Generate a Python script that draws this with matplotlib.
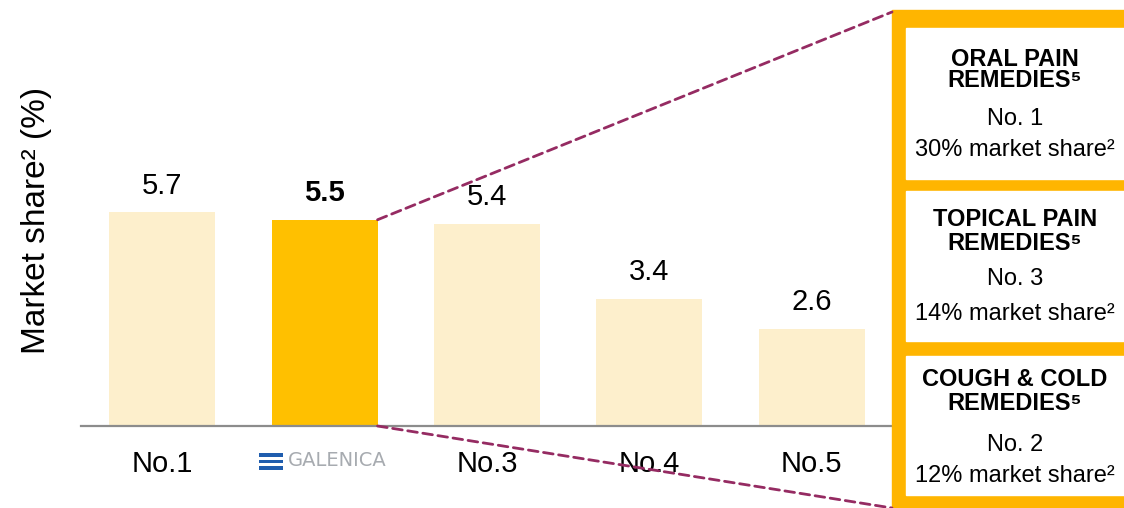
import matplotlib
matplotlib.use("Agg")
import matplotlib.pyplot as plt
from matplotlib.patches import Rectangle, ConnectionPatch
import matplotlib.transforms as mtransforms

plt.rcParams['font.family'] = ['Liberation Sans', 'DejaVu Sans']

# ---- data ----
categories = ["No.1", "GALENICA", "No.3", "No.4", "No.5"]
values = [5.7, 5.5, 5.4, 3.4, 2.6]
highlight = "GALENICA"
ylabel = "Market share\u00b2 (%)"
panel_titles = ["ORAL PAIN\nREMEDIES\u2075", "TOPICAL PAIN\nREMEDIES\u2075", "COUGH & COLD\nREMEDIES\u2075"]
panel_ranks = ["No. 1", "No. 3", "No. 2"]
panel_shares = ["30% market share\u00b2", "14% market share\u00b2", "12% market share\u00b2"]

# ---- style ----
C_LIGHT = "#FDEFCC"
C_HL = "#FFC000"
C_FRAME = "#FFB500"
C_DASH = "#952B62"
W, H = 1124, 508

fig = plt.figure(figsize=(W / 100, H / 100), dpi=100)
ax = fig.add_axes([81 / W, 82 / H, (893 - 81) / W, 416 / H])

bw = 0.652
x = list(range(len(categories)))
colors = [C_HL if c == highlight else C_LIGHT for c in categories]
ax.bar(x, values, width=bw, color=colors, zorder=2)
ax.set_xlim(-0.5, len(categories) - 0.5)
ax.set_ylim(0, 416 / 37.5)

for xi, v, c in zip(x, values, categories):
    ax.annotate(f"{v:.1f}", (xi, v), xytext=(0, 9), textcoords="offset points",
                ha="center", va="bottom", fontsize=21,
                fontweight="bold" if c == highlight else "normal")

for s in ["top", "right", "left"]:
    ax.spines[s].set_visible(False)
ax.spines["bottom"].set_color("#8C8C8C")
ax.spines["bottom"].set_linewidth(1.6)
ax.set_yticks([])
ax.set_xticks(x)
ax.set_xticklabels(["" if c == highlight else c for c in categories], fontsize=21)
ax.tick_params(axis="x", length=0, pad=17)

# GALENICA logo (stripes + wordmark) under highlighted bar
hi = categories.index(highlight)
trans = mtransforms.blended_transform_factory(ax.transData, ax.transAxes)
px = 1 / 162.5  # data units per pixel horizontally
py = 1 / 416    # axes units per pixel vertically
for k in range(3):
    y_pix = 453 + k * 6.5
    y_ax = (426 - y_pix) / 416.0
    ax.add_patch(Rectangle((hi - (325 - 259) * px, y_ax - 3.5 * py), 24 * px, 3.5 * py,
                           transform=trans, facecolor="#1F5DAE", edgecolor="none",
                           lw=0, clip_on=False))
ax.text(hi - (325 - 288) * px, (426 - 461) / 416.0, "GALENICA", transform=trans,
        ha="left", va="center", fontsize=14, color="#A7ABB0", family="DejaVu Sans")

fig.text(37 / W, 1 - 220 / H, ylabel, rotation=90, ha="center", va="center", fontsize=24)

# ---- right panel ----
fx0 = 892 / W
fig.patches.append(Rectangle((fx0, 0), 1 - fx0, 1 - 10 / H, transform=fig.transFigure,
                             color=C_FRAME, zorder=0))
boxes = [(28, 179), (191, 341), (356, 495)]
title_y = [(59, 81), (219, 243), (379, 403)]
rank_y = [119, 279, 445]
share_y = [150, 314, 476]
cx = (906 + W) / 2 / W
for i, (t, b) in enumerate(boxes):
    fig.patches.append(Rectangle((906 / W, 1 - b / H), (W - 906) / W, (b - t) / H,
                                 transform=fig.transFigure, color="white", zorder=1))
    l1, l2 = panel_titles[i].split("\n")
    fig.text(cx, 1 - title_y[i][0] / H, l1, ha="center", va="center", fontsize=17, fontweight="bold")
    fig.text(cx, 1 - title_y[i][1] / H, l2, ha="center", va="center", fontsize=17, fontweight="bold")
    fig.text(cx, 1 - rank_y[i] / H, panel_ranks[i], ha="center", va="center", fontsize=17)
    fig.text(cx, 1 - share_y[i] / H, panel_shares[i], ha="center", va="center", fontsize=17)

# ---- dashed connectors ----
for yv, fy in [(values[hi], 1 - 12 / H), (0, 0)]:
    con = ConnectionPatch(xyA=(hi + bw / 2, yv), coordsA=ax.transData,
                          xyB=(fx0, fy), coordsB=fig.transFigure,
                          color=C_DASH, lw=2.0, linestyle=(0, (3.5, 2)), zorder=5)
    fig.add_artist(con)

fig.savefig("out.png", dpi=100)
